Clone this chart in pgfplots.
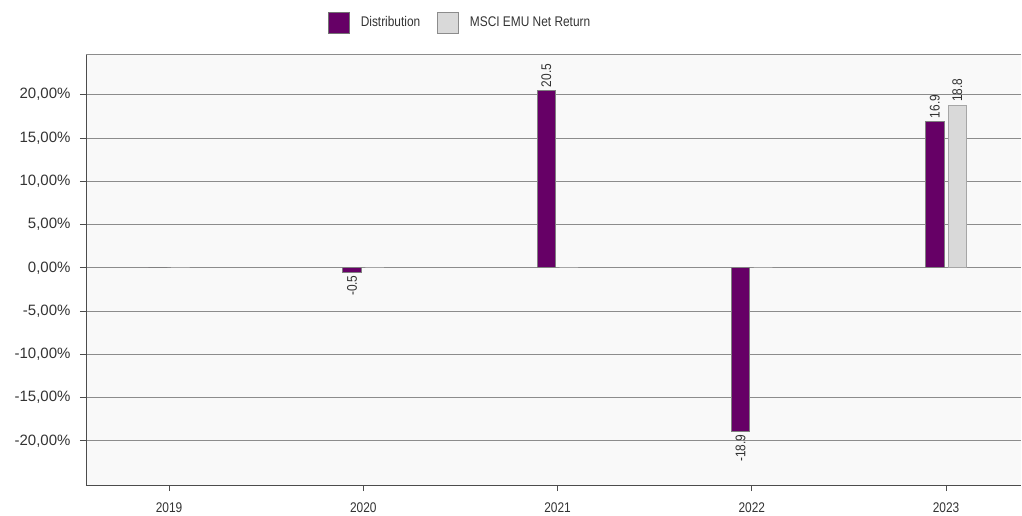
\documentclass[border=0pt]{standalone}
\usepackage{fontspec}
\setmainfont{Liberation Sans}
\newfontfamily\narrowfont[FakeStretch=0.85]{Liberation Sans}
\usepackage{pgfplots}
\usepackage{pgfplotstable}
\pgfplotsset{compat=1.18}

\definecolor{distpurple}{HTML}{660066}
\definecolor{mscigray}{HTML}{D9D9D9}
\definecolor{plotbg}{HTML}{F9F9F9}
\definecolor{gridgray}{HTML}{8C8C8C}
\definecolor{txt}{HTML}{333333}

% calendar-year returns in percent, with the value labels shown on the bars
\pgfplotstableread{
idx year dist distlab msci mscilab
0 2019 0 {} 0 {}
1 2020 -0.5 -0.5 0 {}
2 2021 20.5 20.5 0 {}
3 2022 -18.9 -18.9 0 {}
4 2023 16.9 16.9 18.8 18.8
}\returns

\begin{document}
\begin{tikzpicture}
\begin{axis}[
  scale only axis,
  width=935pt, height=431pt,
  xmin=-0.4273, xmax=4.386,
  ymin=-25.1, ymax=24.7,
  ybar=4pt, bar width=18.5pt,
  axis background/.style={fill=plotbg},
  axis x line*=bottom, axis y line*=left,
  axis line style={-, draw=black!70, line width=0.9pt},
  xtick={0,1,2,3,4},
  xticklabels={2019,2020,2021,2022,2023},
  ytick={-20,-15,-10,-5,0,5,10,15,20},
  yticklabel={\pgfmathprintnumber[fixed,fixed zerofill,precision=2,use comma]{\tick}\%},
  /pgf/number format/assume math mode=true,
  ymajorgrids,
  grid style={gridgray, line width=0.8pt},
  tick align=outside, major tick length=6pt,
  tick style={black!70, line width=0.8pt},
  xticklabel style={font=\narrowfont\fontsize{14}{16}\selectfont, text=txt, yshift=-8pt},
  yticklabel style={font=\fontsize{15}{17}\selectfont, text=txt, xshift=-6pt},
  point meta=explicit symbolic,
  visualization depends on={rawy \as \rawy},
  nodes near coords={\rotatebox{90}{\pgfplotspointmeta}},
  every node near coord/.append style={
    anchor=\ifdim\rawy pt<0pt north\else south\fi,
    font=\narrowfont\fontsize{14}{16}\selectfont, text=txt, inner sep=3pt},
  legend columns=2,
  legend style={draw=none, fill=none, inner sep=0pt,
    at={(0.2588,1.0731)}, anchor=west,
    font=\narrowfont\fontsize{14}{16}\selectfont, text=txt,
    /tikz/every even column/.append style={column sep=15pt},
    /tikz/every odd column/.append style={column sep=9pt}},
]
\addplot[fill=distpurple, draw=black!50, line width=0.6pt,
  legend image code/.code={\draw[fill=distpurple, draw=black!55, line width=0.6pt] (0pt,-10.5pt) rectangle (21pt,10.5pt);}]
  table[x=idx, y=dist, meta=distlab] {\returns};
\addlegendentry{Distribution}
\addplot[fill=mscigray, draw=black!35, line width=0.8pt,
  legend image code/.code={\draw[fill=mscigray, draw=black!45, line width=0.6pt] (0pt,-10.5pt) rectangle (21pt,10.5pt);}]
  table[x=idx, y=msci, meta=mscilab] {\returns};
\addlegendentry{MSCI EMU Net Return}
\draw[gridgray, line width=0.9pt] (rel axis cs:0,1) -- (rel axis cs:1,1);
\coordinate (O) at (rel axis cs:0,0);
\end{axis}
\pgfresetboundingbox
\path (O) ++(-86pt,-30pt) rectangle ++(1022pt,515pt);
\end{tikzpicture}
\end{document}
